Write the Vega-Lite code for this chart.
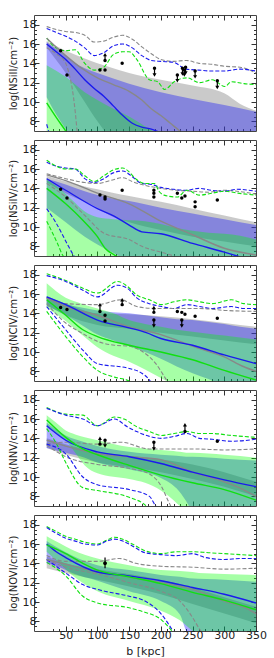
{
"$schema": "https://vega.github.io/schema/vega-lite/v6.json",
"padding": {"left": 7, "top": 13, "right": 10, "bottom": 5},
"spacing": 6,
"config": {"view": {"stroke": "#444", "strokeWidth": 1}, "font": "DejaVu Sans", "axis": {"labelFont": "DejaVu Sans", "titleFont": "DejaVu Sans", "labelColor": "#222", "titleColor": "#222", "tickColor": "#333", "grid": false, "domain": false}},
"datasets": {
"bands": [
{"p":1,"m":"G","b":20,"hi":16.3,"lo":15.6},{"p":1,"m":"G","b":50,"hi":15.3,"lo":13.0},{"p":1,"m":"G","b":80,"hi":14.5,"lo":10.0},{"p":1,"m":"G","b":100,"hi":14.0,"lo":8.0},{"p":1,"m":"G","b":120,"hi":13.6,"lo":6.5},{"p":1,"m":"G","b":150,"hi":13.0,"lo":6.0},{"p":1,"m":"G","b":200,"hi":12.3,"lo":6.0},{"p":1,"m":"G","b":250,"hi":11.7,"lo":6.0},{"p":1,"m":"G","b":300,"hi":10.9,"lo":6.0},{"p":1,"m":"G","b":325,"hi":9.8,"lo":6.0},{"p":1,"m":"G","b":350,"hi":9.1,"lo":6.0},
{"p":1,"m":"B","b":20,"hi":16.2,"lo":10.5},{"p":1,"m":"B","b":35,"hi":15.5,"lo":8.7},{"p":1,"m":"B","b":50,"hi":14.8,"lo":7.2},{"p":1,"m":"B","b":65,"hi":14.0,"lo":6.0},{"p":1,"m":"B","b":80,"hi":13.5,"lo":6.0},{"p":1,"m":"B","b":100,"hi":13.0,"lo":6.0},{"p":1,"m":"B","b":150,"hi":11.9,"lo":6.0},{"p":1,"m":"B","b":200,"hi":11.0,"lo":6.0},{"p":1,"m":"B","b":250,"hi":10.3,"lo":6.0},{"p":1,"m":"B","b":300,"hi":9.7,"lo":6.0},{"p":1,"m":"B","b":350,"hi":9.0,"lo":6.0},
{"p":1,"m":"N","b":20,"hi":13.8,"lo":6.0},{"p":1,"m":"N","b":50,"hi":12.6,"lo":6.0},{"p":1,"m":"N","b":80,"hi":11.0,"lo":6.0},{"p":1,"m":"N","b":100,"hi":10.2,"lo":6.0},{"p":1,"m":"N","b":125,"hi":9.3,"lo":6.0},{"p":1,"m":"N","b":150,"hi":8.5,"lo":6.0},{"p":1,"m":"N","b":175,"hi":7.5,"lo":6.0},{"p":1,"m":"N","b":200,"hi":6.5,"lo":6.0},
{"p":2,"m":"G","b":20,"hi":15.3,"lo":14.6},{"p":2,"m":"G","b":50,"hi":14.7,"lo":13.5},{"p":2,"m":"G","b":80,"hi":14.2,"lo":12.6},{"p":2,"m":"G","b":100,"hi":13.9,"lo":12.0},{"p":2,"m":"G","b":120,"hi":13.6,"lo":11.2},{"p":2,"m":"G","b":150,"hi":13.2,"lo":10.5},{"p":2,"m":"G","b":200,"hi":12.6,"lo":9.7},{"p":2,"m":"G","b":250,"hi":11.9,"lo":9.0},{"p":2,"m":"G","b":300,"hi":11.2,"lo":8.5},{"p":2,"m":"G","b":350,"hi":10.5,"lo":8.0},
{"p":2,"m":"B","b":20,"hi":15.0,"lo":12.0},{"p":2,"m":"B","b":50,"hi":14.4,"lo":10.5},{"p":2,"m":"B","b":80,"hi":13.7,"lo":9.0},{"p":2,"m":"B","b":100,"hi":13.3,"lo":8.2},{"p":2,"m":"B","b":120,"hi":13.0,"lo":7.5},{"p":2,"m":"B","b":150,"hi":12.7,"lo":6.5},{"p":2,"m":"B","b":200,"hi":12.0,"lo":6.0},{"p":2,"m":"B","b":250,"hi":11.4,"lo":6.0},{"p":2,"m":"B","b":300,"hi":10.8,"lo":6.0},{"p":2,"m":"B","b":350,"hi":10.2,"lo":6.0},
{"p":2,"m":"N","b":20,"hi":14.9,"lo":6.0},{"p":2,"m":"N","b":40,"hi":14.0,"lo":6.0},{"p":2,"m":"N","b":60,"hi":12.8,"lo":6.0},{"p":2,"m":"N","b":80,"hi":11.6,"lo":6.0},{"p":2,"m":"N","b":100,"hi":11.0,"lo":6.0},{"p":2,"m":"N","b":125,"hi":10.8,"lo":6.0},{"p":2,"m":"N","b":150,"hi":10.7,"lo":6.0},{"p":2,"m":"N","b":175,"hi":10.6,"lo":6.0},{"p":2,"m":"N","b":200,"hi":10.3,"lo":6.0},{"p":2,"m":"N","b":225,"hi":9.9,"lo":6.0},{"p":2,"m":"N","b":250,"hi":9.6,"lo":6.0},{"p":2,"m":"N","b":275,"hi":9.4,"lo":6.0},{"p":2,"m":"N","b":300,"hi":9.3,"lo":6.0},{"p":2,"m":"N","b":325,"hi":9.1,"lo":6.0},{"p":2,"m":"N","b":350,"hi":8.7,"lo":6.0},
{"p":3,"m":"G","b":20,"hi":15.6,"lo":14.8},{"p":3,"m":"G","b":50,"hi":15.0,"lo":13.8},{"p":3,"m":"G","b":100,"hi":14.0,"lo":12.8},{"p":3,"m":"G","b":150,"hi":13.9,"lo":12.4},{"p":3,"m":"G","b":200,"hi":13.7,"lo":12.0},{"p":3,"m":"G","b":250,"hi":13.4,"lo":11.6},{"p":3,"m":"G","b":300,"hi":13.0,"lo":11.2},{"p":3,"m":"G","b":350,"hi":12.6,"lo":10.8},
{"p":3,"m":"B","b":20,"hi":15.8,"lo":14.8},{"p":3,"m":"B","b":50,"hi":15.0,"lo":13.8},{"p":3,"m":"B","b":75,"hi":14.6,"lo":12.8},{"p":3,"m":"B","b":100,"hi":14.3,"lo":11.8},{"p":3,"m":"B","b":125,"hi":14.1,"lo":11.2},{"p":3,"m":"B","b":150,"hi":14.0,"lo":10.6},{"p":3,"m":"B","b":175,"hi":13.8,"lo":10.0},{"p":3,"m":"B","b":200,"hi":13.6,"lo":9.3},{"p":3,"m":"B","b":225,"hi":13.4,"lo":8.5},{"p":3,"m":"B","b":250,"hi":13.3,"lo":7.8},{"p":3,"m":"B","b":275,"hi":13.1,"lo":7.2},{"p":3,"m":"B","b":300,"hi":12.9,"lo":6.5},{"p":3,"m":"B","b":325,"hi":12.6,"lo":6.0},{"p":3,"m":"B","b":350,"hi":12.4,"lo":6.0},
{"p":3,"m":"N","b":20,"hi":17.1,"lo":14.6},{"p":3,"m":"N","b":50,"hi":15.6,"lo":13.2},{"p":3,"m":"N","b":75,"hi":15.0,"lo":11.8},{"p":3,"m":"N","b":100,"hi":14.5,"lo":10.5},{"p":3,"m":"N","b":125,"hi":14.0,"lo":9.6},{"p":3,"m":"N","b":150,"hi":13.3,"lo":9.0},{"p":3,"m":"N","b":175,"hi":12.9,"lo":8.2},{"p":3,"m":"N","b":200,"hi":12.6,"lo":7.3},{"p":3,"m":"N","b":225,"hi":12.3,"lo":6.5},{"p":3,"m":"N","b":250,"hi":12.1,"lo":6.0},{"p":3,"m":"N","b":275,"hi":11.9,"lo":6.0},{"p":3,"m":"N","b":300,"hi":11.7,"lo":6.0},{"p":3,"m":"N","b":325,"hi":11.5,"lo":6.0},{"p":3,"m":"N","b":350,"hi":11.3,"lo":6.0},
{"p":4,"m":"G","b":20,"hi":14.0,"lo":13.0},{"p":4,"m":"G","b":50,"hi":13.4,"lo":12.3},{"p":4,"m":"G","b":100,"hi":12.6,"lo":11.5},{"p":4,"m":"G","b":150,"hi":12.2,"lo":11.0},{"p":4,"m":"G","b":200,"hi":11.8,"lo":10.5},{"p":4,"m":"G","b":250,"hi":11.3,"lo":9.8},{"p":4,"m":"G","b":300,"hi":10.5,"lo":9.0},{"p":4,"m":"G","b":350,"hi":9.5,"lo":8.0},
{"p":4,"m":"B","b":20,"hi":15.6,"lo":13.0},{"p":4,"m":"B","b":50,"hi":14.3,"lo":12.5},{"p":4,"m":"B","b":80,"hi":13.6,"lo":12.0},{"p":4,"m":"B","b":100,"hi":13.2,"lo":11.5},{"p":4,"m":"B","b":150,"hi":12.6,"lo":10.8},{"p":4,"m":"B","b":200,"hi":12.3,"lo":9.9},{"p":4,"m":"B","b":225,"hi":12.2,"lo":8.8},{"p":4,"m":"B","b":240,"hi":12.1,"lo":7.5},{"p":4,"m":"B","b":250,"hi":12.1,"lo":6.5},{"p":4,"m":"B","b":300,"hi":11.9,"lo":6.0},{"p":4,"m":"B","b":350,"hi":11.7,"lo":6.0},
{"p":4,"m":"N","b":20,"hi":16.4,"lo":15.2},{"p":4,"m":"N","b":35,"hi":15.6,"lo":14.5},{"p":4,"m":"N","b":50,"hi":14.8,"lo":13.8},{"p":4,"m":"N","b":65,"hi":14.4,"lo":12.5},{"p":4,"m":"N","b":80,"hi":14.1,"lo":11.2},{"p":4,"m":"N","b":100,"hi":13.8,"lo":10.4},{"p":4,"m":"N","b":150,"hi":13.1,"lo":9.8},{"p":4,"m":"N","b":175,"hi":12.95,"lo":9.4},{"p":4,"m":"N","b":200,"hi":12.8,"lo":8.6},{"p":4,"m":"N","b":220,"hi":12.7,"lo":7.6},{"p":4,"m":"N","b":230,"hi":12.6,"lo":7.0},{"p":4,"m":"N","b":240,"hi":12.5,"lo":6.5},{"p":4,"m":"N","b":250,"hi":12.5,"lo":6.0},{"p":4,"m":"N","b":300,"hi":12.3,"lo":6.0},{"p":4,"m":"N","b":350,"hi":12.0,"lo":6.0},
{"p":5,"m":"G","b":20,"hi":14.7,"lo":13.5},{"p":5,"m":"G","b":50,"hi":14.0,"lo":13.0},{"p":5,"m":"G","b":100,"hi":13.4,"lo":12.3},{"p":5,"m":"G","b":150,"hi":12.9,"lo":11.6},{"p":5,"m":"G","b":200,"hi":12.3,"lo":10.8},{"p":5,"m":"G","b":250,"hi":11.5,"lo":9.8},{"p":5,"m":"G","b":300,"hi":10.5,"lo":8.8},{"p":5,"m":"G","b":350,"hi":9.5,"lo":7.8},
{"p":5,"m":"B","b":20,"hi":16.3,"lo":14.0},{"p":5,"m":"B","b":40,"hi":15.5,"lo":13.6},{"p":5,"m":"B","b":60,"hi":14.8,"lo":13.0},{"p":5,"m":"B","b":100,"hi":13.8,"lo":12.2},{"p":5,"m":"B","b":150,"hi":13.3,"lo":11.1},{"p":5,"m":"B","b":200,"hi":12.8,"lo":10.1},{"p":5,"m":"B","b":230,"hi":12.6,"lo":8.7},{"p":5,"m":"B","b":240,"hi":12.5,"lo":7.0},{"p":5,"m":"B","b":245,"hi":12.45,"lo":6.5},{"p":5,"m":"B","b":300,"hi":12.3,"lo":6.0},{"p":5,"m":"B","b":350,"hi":12.1,"lo":6.0},
{"p":5,"m":"N","b":20,"hi":16.8,"lo":15.2},{"p":5,"m":"N","b":40,"hi":16.1,"lo":14.0},{"p":5,"m":"N","b":60,"hi":15.4,"lo":12.8},{"p":5,"m":"N","b":100,"hi":14.5,"lo":11.1},{"p":5,"m":"N","b":150,"hi":13.8,"lo":10.1},{"p":5,"m":"N","b":200,"hi":13.3,"lo":9.1},{"p":5,"m":"N","b":230,"hi":13.2,"lo":8.1},{"p":5,"m":"N","b":250,"hi":13.1,"lo":7.0},{"p":5,"m":"N","b":260,"hi":13.0,"lo":6.5},{"p":5,"m":"N","b":300,"hi":12.9,"lo":6.0},{"p":5,"m":"N","b":350,"hi":12.8,"lo":6.0}
],
"lines": [
{"p":1,"m":"G","q":"u","b":20,"v":17.8},{"p":1,"m":"G","q":"u","b":35,"v":17.5},{"p":1,"m":"G","q":"u","b":50,"v":17.3},{"p":1,"m":"G","q":"u","b":65,"v":17.2},{"p":1,"m":"G","q":"u","b":80,"v":16.9},{"p":1,"m":"G","q":"u","b":95,"v":16.2},{"p":1,"m":"G","q":"u","b":110,"v":16.3},{"p":1,"m":"G","q":"u","b":125,"v":16.7},{"p":1,"m":"G","q":"u","b":140,"v":16.9},{"p":1,"m":"G","q":"u","b":155,"v":16.5},{"p":1,"m":"G","q":"u","b":170,"v":15.7},{"p":1,"m":"G","q":"u","b":185,"v":15.0},{"p":1,"m":"G","q":"u","b":200,"v":14.4},{"p":1,"m":"G","q":"u","b":220,"v":14.2},{"p":1,"m":"G","q":"u","b":240,"v":14.3},{"p":1,"m":"G","q":"u","b":260,"v":14.0},{"p":1,"m":"G","q":"u","b":280,"v":13.9},{"p":1,"m":"G","q":"u","b":300,"v":13.7},{"p":1,"m":"G","q":"u","b":325,"v":13.6},{"p":1,"m":"G","q":"u","b":350,"v":13.0},
{"p":1,"m":"B","q":"u","b":20,"v":17.6},{"p":1,"m":"B","q":"u","b":35,"v":17.2},{"p":1,"m":"B","q":"u","b":50,"v":16.8},{"p":1,"m":"B","q":"u","b":65,"v":16.3},{"p":1,"m":"B","q":"u","b":80,"v":15.6},{"p":1,"m":"B","q":"u","b":95,"v":14.8},{"p":1,"m":"B","q":"u","b":110,"v":15.1},{"p":1,"m":"B","q":"u","b":125,"v":15.8},{"p":1,"m":"B","q":"u","b":140,"v":16.0},{"p":1,"m":"B","q":"u","b":155,"v":15.6},{"p":1,"m":"B","q":"u","b":170,"v":14.8},{"p":1,"m":"B","q":"u","b":185,"v":14.3},{"p":1,"m":"B","q":"u","b":200,"v":14.2},{"p":1,"m":"B","q":"u","b":220,"v":14.1},{"p":1,"m":"B","q":"u","b":240,"v":13.4},{"p":1,"m":"B","q":"u","b":260,"v":13.3},{"p":1,"m":"B","q":"u","b":280,"v":13.2},{"p":1,"m":"B","q":"u","b":300,"v":13.2},{"p":1,"m":"B","q":"u","b":325,"v":13.4},{"p":1,"m":"B","q":"u","b":350,"v":13.2},
{"p":1,"m":"N","q":"u","b":20,"v":16.6},{"p":1,"m":"N","q":"u","b":35,"v":15.6},{"p":1,"m":"N","q":"u","b":50,"v":15.3},{"p":1,"m":"N","q":"u","b":65,"v":15.4},{"p":1,"m":"N","q":"u","b":80,"v":14.0},{"p":1,"m":"N","q":"u","b":95,"v":13.3},{"p":1,"m":"N","q":"u","b":110,"v":13.6},{"p":1,"m":"N","q":"u","b":125,"v":14.9},{"p":1,"m":"N","q":"u","b":140,"v":15.2},{"p":1,"m":"N","q":"u","b":150,"v":15.2},{"p":1,"m":"N","q":"u","b":162,"v":14.4},{"p":1,"m":"N","q":"u","b":182,"v":12.3},{"p":1,"m":"N","q":"u","b":195,"v":12.1},{"p":1,"m":"N","q":"u","b":206,"v":11.3},{"p":1,"m":"N","q":"u","b":221,"v":12.1},{"p":1,"m":"N","q":"u","b":241,"v":12.5},{"p":1,"m":"N","q":"u","b":261,"v":12.0},{"p":1,"m":"N","q":"u","b":281,"v":12.3},{"p":1,"m":"N","q":"u","b":301,"v":11.6},{"p":1,"m":"N","q":"u","b":311,"v":12.1},{"p":1,"m":"N","q":"u","b":331,"v":11.9},{"p":1,"m":"N","q":"u","b":350,"v":11.8},
{"p":1,"m":"G","q":"m","b":20,"v":16.6},{"p":1,"m":"G","q":"m","b":50,"v":14.8},{"p":1,"m":"G","q":"m","b":75,"v":13.5},{"p":1,"m":"G","q":"m","b":100,"v":12.5},{"p":1,"m":"G","q":"m","b":125,"v":11.8},{"p":1,"m":"G","q":"m","b":150,"v":11.1},{"p":1,"m":"G","q":"m","b":170,"v":10.2},{"p":1,"m":"G","q":"m","b":185,"v":9.3},{"p":1,"m":"G","q":"m","b":200,"v":8.6},{"p":1,"m":"G","q":"m","b":215,"v":7.8},{"p":1,"m":"G","q":"m","b":230,"v":7.0},{"p":1,"m":"G","q":"m","b":240,"v":6.5},
{"p":1,"m":"G","q":"l","b":20,"v":15.6},{"p":1,"m":"G","q":"l","b":35,"v":15.0},{"p":1,"m":"G","q":"l","b":50,"v":14.0},{"p":1,"m":"G","q":"l","b":55,"v":13.0},{"p":1,"m":"G","q":"l","b":60,"v":11.5},{"p":1,"m":"G","q":"l","b":65,"v":9.0},{"p":1,"m":"G","q":"l","b":68,"v":7.0},{"p":1,"m":"G","q":"l","b":70,"v":6.0},
{"p":1,"m":"B","q":"m","b":20,"v":16.0},{"p":1,"m":"B","q":"m","b":35,"v":15.2},{"p":1,"m":"B","q":"m","b":50,"v":14.4},{"p":1,"m":"B","q":"m","b":65,"v":13.4},{"p":1,"m":"B","q":"m","b":80,"v":12.3},{"p":1,"m":"B","q":"m","b":95,"v":11.4},{"p":1,"m":"B","q":"m","b":110,"v":10.6},{"p":1,"m":"B","q":"m","b":125,"v":9.6},{"p":1,"m":"B","q":"m","b":140,"v":8.6},{"p":1,"m":"B","q":"m","b":155,"v":7.8},{"p":1,"m":"B","q":"m","b":170,"v":7.4},{"p":1,"m":"B","q":"m","b":185,"v":7.2},{"p":1,"m":"B","q":"m","b":200,"v":6.8},
{"p":1,"m":"B","q":"l","b":20,"v":7.7},{"p":1,"m":"B","q":"l","b":25,"v":6.5},
{"p":1,"m":"N","q":"m","b":20,"v":9.9},{"p":1,"m":"N","q":"m","b":35,"v":8.4},{"p":1,"m":"N","q":"m","b":50,"v":7.0},{"p":1,"m":"N","q":"m","b":55,"v":6.5},
{"p":2,"m":"G","q":"u","b":20,"v":15.5},{"p":2,"m":"G","q":"u","b":50,"v":15.0},{"p":2,"m":"G","q":"u","b":80,"v":14.6},{"p":2,"m":"G","q":"u","b":100,"v":14.5},{"p":2,"m":"G","q":"u","b":120,"v":14.8},{"p":2,"m":"G","q":"u","b":140,"v":15.1},{"p":2,"m":"G","q":"u","b":155,"v":14.7},{"p":2,"m":"G","q":"u","b":175,"v":14.3},{"p":2,"m":"G","q":"u","b":200,"v":14.0},{"p":2,"m":"G","q":"u","b":225,"v":13.8},{"p":2,"m":"G","q":"u","b":250,"v":13.7},{"p":2,"m":"G","q":"u","b":275,"v":13.6},{"p":2,"m":"G","q":"u","b":300,"v":13.8},{"p":2,"m":"G","q":"u","b":320,"v":13.7},{"p":2,"m":"G","q":"u","b":350,"v":13.4},
{"p":2,"m":"B","q":"u","b":20,"v":16.7},{"p":2,"m":"B","q":"u","b":35,"v":16.3},{"p":2,"m":"B","q":"u","b":50,"v":16.1},{"p":2,"m":"B","q":"u","b":65,"v":16.0},{"p":2,"m":"B","q":"u","b":80,"v":15.0},{"p":2,"m":"B","q":"u","b":95,"v":14.6},{"p":2,"m":"B","q":"u","b":110,"v":15.0},{"p":2,"m":"B","q":"u","b":125,"v":15.6},{"p":2,"m":"B","q":"u","b":140,"v":15.8},{"p":2,"m":"B","q":"u","b":155,"v":15.2},{"p":2,"m":"B","q":"u","b":170,"v":14.5},{"p":2,"m":"B","q":"u","b":185,"v":14.4},{"p":2,"m":"B","q":"u","b":200,"v":14.1},{"p":2,"m":"B","q":"u","b":220,"v":13.9},{"p":2,"m":"B","q":"u","b":240,"v":13.8},{"p":2,"m":"B","q":"u","b":260,"v":14.0},{"p":2,"m":"B","q":"u","b":280,"v":13.8},{"p":2,"m":"B","q":"u","b":300,"v":13.7},{"p":2,"m":"B","q":"u","b":320,"v":13.9},{"p":2,"m":"B","q":"u","b":350,"v":13.7},
{"p":2,"m":"N","q":"u","b":20,"v":16.9},{"p":2,"m":"N","q":"u","b":35,"v":16.3},{"p":2,"m":"N","q":"u","b":50,"v":16.0},{"p":2,"m":"N","q":"u","b":65,"v":16.0},{"p":2,"m":"N","q":"u","b":80,"v":15.3},{"p":2,"m":"N","q":"u","b":95,"v":14.7},{"p":2,"m":"N","q":"u","b":110,"v":15.3},{"p":2,"m":"N","q":"u","b":125,"v":15.9},{"p":2,"m":"N","q":"u","b":140,"v":16.1},{"p":2,"m":"N","q":"u","b":150,"v":15.7},{"p":2,"m":"N","q":"u","b":160,"v":15.0},{"p":2,"m":"N","q":"u","b":175,"v":14.5},{"p":2,"m":"N","q":"u","b":190,"v":14.5},{"p":2,"m":"N","q":"u","b":197,"v":13.7},{"p":2,"m":"N","q":"u","b":205,"v":13.3},{"p":2,"m":"N","q":"u","b":226,"v":13.1},{"p":2,"m":"N","q":"u","b":241,"v":13.8},{"p":2,"m":"N","q":"u","b":261,"v":13.3},{"p":2,"m":"N","q":"u","b":281,"v":13.5},{"p":2,"m":"N","q":"u","b":301,"v":13.7},{"p":2,"m":"N","q":"u","b":321,"v":13.5},{"p":2,"m":"N","q":"u","b":350,"v":13.3},
{"p":2,"m":"G","q":"m","b":20,"v":15.4},{"p":2,"m":"G","q":"m","b":50,"v":14.8},{"p":2,"m":"G","q":"m","b":100,"v":13.5},{"p":2,"m":"G","q":"m","b":150,"v":12.4},{"p":2,"m":"G","q":"m","b":200,"v":10.6},{"p":2,"m":"G","q":"m","b":250,"v":9.2},{"p":2,"m":"G","q":"m","b":300,"v":7.8},{"p":2,"m":"G","q":"m","b":350,"v":7.1},
{"p":2,"m":"G","q":"l","b":20,"v":14.5},{"p":2,"m":"G","q":"l","b":50,"v":13.1},{"p":2,"m":"G","q":"l","b":77,"v":11.4},{"p":2,"m":"G","q":"l","b":112,"v":9.3},{"p":2,"m":"G","q":"l","b":150,"v":8.7},{"p":2,"m":"G","q":"l","b":170,"v":8.0},{"p":2,"m":"G","q":"l","b":200,"v":7.4},{"p":2,"m":"G","q":"l","b":220,"v":7.0},{"p":2,"m":"G","q":"l","b":230,"v":6.7},
{"p":2,"m":"B","q":"m","b":20,"v":15.0},{"p":2,"m":"B","q":"m","b":50,"v":13.8},{"p":2,"m":"B","q":"m","b":100,"v":11.9},{"p":2,"m":"B","q":"m","b":127,"v":11.1},{"p":2,"m":"B","q":"m","b":150,"v":10.2},{"p":2,"m":"B","q":"m","b":170,"v":9.5},{"p":2,"m":"B","q":"m","b":200,"v":9.3},{"p":2,"m":"B","q":"m","b":250,"v":8.3},{"p":2,"m":"B","q":"m","b":300,"v":7.4},{"p":2,"m":"B","q":"m","b":320,"v":7.0},{"p":2,"m":"B","q":"m","b":330,"v":6.8},
{"p":2,"m":"B","q":"l","b":20,"v":11.9},{"p":2,"m":"B","q":"l","b":35,"v":10.4},{"p":2,"m":"B","q":"l","b":52,"v":8.3},{"p":2,"m":"B","q":"l","b":62,"v":7.1},{"p":2,"m":"B","q":"l","b":65,"v":6.8},
{"p":2,"m":"N","q":"m","b":20,"v":14.0},{"p":2,"m":"N","q":"m","b":50,"v":12.4},{"p":2,"m":"N","q":"m","b":77,"v":10.7},{"p":2,"m":"N","q":"m","b":100,"v":9.0},{"p":2,"m":"N","q":"m","b":112,"v":7.8},{"p":2,"m":"N","q":"m","b":127,"v":7.1},{"p":2,"m":"N","q":"m","b":135,"v":6.8},
{"p":2,"m":"N","q":"l","b":20,"v":10.6},{"p":2,"m":"N","q":"l","b":37,"v":8.3},{"p":2,"m":"N","q":"l","b":45,"v":7.1},{"p":2,"m":"N","q":"l","b":48,"v":6.8},
{"p":3,"m":"N","q":"u","b":20,"v":18.1},{"p":3,"m":"N","q":"u","b":50,"v":17.4},{"p":3,"m":"N","q":"u","b":77,"v":16.6},{"p":3,"m":"N","q":"u","b":100,"v":16.1},{"p":3,"m":"N","q":"u","b":132,"v":17.3},{"p":3,"m":"N","q":"u","b":147,"v":16.8},{"p":3,"m":"N","q":"u","b":162,"v":15.9},{"p":3,"m":"N","q":"u","b":182,"v":15.4},{"p":3,"m":"N","q":"u","b":201,"v":14.9},{"p":3,"m":"N","q":"u","b":221,"v":15.2},{"p":3,"m":"N","q":"u","b":241,"v":15.4},{"p":3,"m":"N","q":"u","b":261,"v":15.2},{"p":3,"m":"N","q":"u","b":281,"v":15.0},{"p":3,"m":"N","q":"u","b":311,"v":15.4},{"p":3,"m":"N","q":"u","b":331,"v":15.0},{"p":3,"m":"N","q":"u","b":350,"v":14.9},
{"p":3,"m":"B","q":"u","b":20,"v":17.9},{"p":3,"m":"B","q":"u","b":50,"v":17.3},{"p":3,"m":"B","q":"u","b":77,"v":16.4},{"p":3,"m":"B","q":"u","b":100,"v":15.7},{"p":3,"m":"B","q":"u","b":132,"v":16.9},{"p":3,"m":"B","q":"u","b":147,"v":16.6},{"p":3,"m":"B","q":"u","b":162,"v":15.6},{"p":3,"m":"B","q":"u","b":182,"v":15.0},{"p":3,"m":"B","q":"u","b":201,"v":14.7},{"p":3,"m":"B","q":"u","b":221,"v":14.5},{"p":3,"m":"B","q":"u","b":241,"v":14.9},{"p":3,"m":"B","q":"u","b":261,"v":14.7},{"p":3,"m":"B","q":"u","b":281,"v":14.5},{"p":3,"m":"B","q":"u","b":311,"v":14.7},{"p":3,"m":"B","q":"u","b":331,"v":14.5},{"p":3,"m":"B","q":"u","b":350,"v":14.5},
{"p":3,"m":"G","q":"u","b":20,"v":15.6},{"p":3,"m":"G","q":"u","b":50,"v":15.0},{"p":3,"m":"G","q":"u","b":100,"v":14.9},{"p":3,"m":"G","q":"u","b":137,"v":15.4},{"p":3,"m":"G","q":"u","b":162,"v":14.7},{"p":3,"m":"G","q":"u","b":192,"v":14.5},{"p":3,"m":"G","q":"u","b":221,"v":14.5},{"p":3,"m":"G","q":"u","b":261,"v":14.5},{"p":3,"m":"G","q":"u","b":301,"v":14.3},{"p":3,"m":"G","q":"u","b":350,"v":14.2},
{"p":3,"m":"G","q":"l","b":20,"v":15.0},{"p":3,"m":"G","q":"l","b":50,"v":13.0},{"p":3,"m":"G","q":"l","b":77,"v":11.9},{"p":3,"m":"G","q":"l","b":100,"v":11.1},{"p":3,"m":"G","q":"l","b":127,"v":10.7},{"p":3,"m":"G","q":"l","b":150,"v":10.6},{"p":3,"m":"G","q":"l","b":172,"v":10.0},{"p":3,"m":"G","q":"l","b":192,"v":8.8},{"p":3,"m":"G","q":"l","b":207,"v":7.3},{"p":3,"m":"G","q":"l","b":212,"v":6.8},
{"p":3,"m":"G","q":"m","b":20,"v":15.6},{"p":3,"m":"G","q":"m","b":50,"v":14.7},{"p":3,"m":"G","q":"m","b":100,"v":13.8},{"p":3,"m":"G","q":"m","b":150,"v":12.6},{"p":3,"m":"G","q":"m","b":200,"v":11.8},{"p":3,"m":"G","q":"m","b":250,"v":10.6},{"p":3,"m":"G","q":"m","b":300,"v":9.5},{"p":3,"m":"G","q":"m","b":330,"v":8.5},{"p":3,"m":"G","q":"m","b":350,"v":8.0},
{"p":3,"m":"B","q":"m","b":20,"v":15.7},{"p":3,"m":"B","q":"m","b":50,"v":14.9},{"p":3,"m":"B","q":"m","b":100,"v":13.3},{"p":3,"m":"B","q":"m","b":150,"v":12.5},{"p":3,"m":"B","q":"m","b":177,"v":12.0},{"p":3,"m":"B","q":"m","b":200,"v":11.4},{"p":3,"m":"B","q":"m","b":250,"v":10.7},{"p":3,"m":"B","q":"m","b":300,"v":9.7},{"p":3,"m":"B","q":"m","b":350,"v":8.8},
{"p":3,"m":"N","q":"m","b":20,"v":15.4},{"p":3,"m":"N","q":"m","b":50,"v":13.8},{"p":3,"m":"N","q":"m","b":77,"v":12.3},{"p":3,"m":"N","q":"m","b":100,"v":11.6},{"p":3,"m":"N","q":"m","b":150,"v":10.7},{"p":3,"m":"N","q":"m","b":200,"v":10.0},{"p":3,"m":"N","q":"m","b":250,"v":9.2},{"p":3,"m":"N","q":"m","b":300,"v":8.1},{"p":3,"m":"N","q":"m","b":350,"v":7.1},
{"p":3,"m":"B","q":"l","b":20,"v":14.7},{"p":3,"m":"B","q":"l","b":50,"v":12.3},{"p":3,"m":"B","q":"l","b":77,"v":10.2},{"p":3,"m":"B","q":"l","b":100,"v":8.8},{"p":3,"m":"B","q":"l","b":150,"v":8.3},{"p":3,"m":"B","q":"l","b":170,"v":7.8},{"p":3,"m":"B","q":"l","b":182,"v":7.1},{"p":3,"m":"B","q":"l","b":185,"v":6.8},
{"p":3,"m":"N","q":"l","b":20,"v":14.2},{"p":3,"m":"N","q":"l","b":50,"v":11.6},{"p":3,"m":"N","q":"l","b":77,"v":9.5},{"p":3,"m":"N","q":"l","b":100,"v":8.1},{"p":3,"m":"N","q":"l","b":127,"v":7.4},{"p":3,"m":"N","q":"l","b":150,"v":7.0},{"p":3,"m":"N","q":"l","b":155,"v":6.8},
{"p":4,"m":"N","q":"u","b":20,"v":17.2},{"p":4,"m":"N","q":"u","b":50,"v":16.5},{"p":4,"m":"N","q":"u","b":77,"v":16.4},{"p":4,"m":"N","q":"u","b":100,"v":15.3},{"p":4,"m":"N","q":"u","b":127,"v":16.2},{"p":4,"m":"N","q":"u","b":142,"v":16.0},{"p":4,"m":"N","q":"u","b":162,"v":15.2},{"p":4,"m":"N","q":"u","b":182,"v":14.7},{"p":4,"m":"N","q":"u","b":201,"v":14.3},{"p":4,"m":"N","q":"u","b":221,"v":14.5},{"p":4,"m":"N","q":"u","b":241,"v":14.7},{"p":4,"m":"N","q":"u","b":261,"v":14.5},{"p":4,"m":"N","q":"u","b":281,"v":14.5},{"p":4,"m":"N","q":"u","b":311,"v":14.3},{"p":4,"m":"N","q":"u","b":350,"v":14.1},
{"p":4,"m":"B","q":"u","b":20,"v":17.1},{"p":4,"m":"B","q":"u","b":50,"v":16.4},{"p":4,"m":"B","q":"u","b":77,"v":16.0},{"p":4,"m":"B","q":"u","b":100,"v":15.3},{"p":4,"m":"B","q":"u","b":127,"v":16.0},{"p":4,"m":"B","q":"u","b":147,"v":15.2},{"p":4,"m":"B","q":"u","b":162,"v":14.7},{"p":4,"m":"B","q":"u","b":182,"v":14.2},{"p":4,"m":"B","q":"u","b":201,"v":14.0},{"p":4,"m":"B","q":"u","b":221,"v":14.2},{"p":4,"m":"B","q":"u","b":241,"v":14.5},{"p":4,"m":"B","q":"u","b":261,"v":14.0},{"p":4,"m":"B","q":"u","b":281,"v":13.9},{"p":4,"m":"B","q":"u","b":311,"v":13.7},{"p":4,"m":"B","q":"u","b":350,"v":13.9},
{"p":4,"m":"G","q":"u","b":20,"v":13.4},{"p":4,"m":"G","q":"u","b":50,"v":13.6},{"p":4,"m":"G","q":"u","b":100,"v":13.4},{"p":4,"m":"G","q":"u","b":137,"v":13.6},{"p":4,"m":"G","q":"u","b":182,"v":12.9},{"p":4,"m":"G","q":"u","b":201,"v":12.9},{"p":4,"m":"G","q":"u","b":251,"v":12.9},{"p":4,"m":"G","q":"u","b":301,"v":12.8},{"p":4,"m":"G","q":"u","b":350,"v":12.9},
{"p":4,"m":"G","q":"l","b":20,"v":13.3},{"p":4,"m":"G","q":"l","b":50,"v":12.1},{"p":4,"m":"G","q":"l","b":100,"v":11.3},{"p":4,"m":"G","q":"l","b":150,"v":10.9},{"p":4,"m":"G","q":"l","b":182,"v":10.3},{"p":4,"m":"G","q":"l","b":201,"v":9.0},{"p":4,"m":"G","q":"l","b":211,"v":7.6},{"p":4,"m":"G","q":"l","b":216,"v":6.9},{"p":4,"m":"G","q":"l","b":218,"v":6.5},
{"p":4,"m":"G","q":"m","b":20,"v":13.8},{"p":4,"m":"G","q":"m","b":50,"v":13.2},{"p":4,"m":"G","q":"m","b":100,"v":12.4},{"p":4,"m":"G","q":"m","b":150,"v":12.1},{"p":4,"m":"G","q":"m","b":200,"v":11.8},{"p":4,"m":"G","q":"m","b":250,"v":10.5},{"p":4,"m":"G","q":"m","b":300,"v":9.5},{"p":4,"m":"G","q":"m","b":330,"v":8.7},{"p":4,"m":"G","q":"m","b":350,"v":8.0},
{"p":4,"m":"B","q":"m","b":20,"v":15.3},{"p":4,"m":"B","q":"m","b":50,"v":13.8},{"p":4,"m":"B","q":"m","b":100,"v":12.6},{"p":4,"m":"B","q":"m","b":150,"v":12.1},{"p":4,"m":"B","q":"m","b":200,"v":11.4},{"p":4,"m":"B","q":"m","b":250,"v":10.5},{"p":4,"m":"B","q":"m","b":300,"v":9.7},{"p":4,"m":"B","q":"m","b":350,"v":9.0},
{"p":4,"m":"N","q":"m","b":20,"v":15.9},{"p":4,"m":"N","q":"m","b":50,"v":14.1},{"p":4,"m":"N","q":"m","b":77,"v":12.9},{"p":4,"m":"N","q":"m","b":100,"v":12.3},{"p":4,"m":"N","q":"m","b":150,"v":11.2},{"p":4,"m":"N","q":"m","b":200,"v":10.2},{"p":4,"m":"N","q":"m","b":250,"v":9.4},{"p":4,"m":"N","q":"m","b":300,"v":8.7},{"p":4,"m":"N","q":"m","b":350,"v":7.6},
{"p":4,"m":"B","q":"l","b":20,"v":13.4},{"p":4,"m":"B","q":"l","b":50,"v":12.4},{"p":4,"m":"B","q":"l","b":77,"v":10.0},{"p":4,"m":"B","q":"l","b":100,"v":9.2},{"p":4,"m":"B","q":"l","b":150,"v":8.7},{"p":4,"m":"B","q":"l","b":182,"v":8.0},{"p":4,"m":"B","q":"l","b":192,"v":7.0},{"p":4,"m":"B","q":"l","b":195,"v":6.8},
{"p":4,"m":"N","q":"l","b":20,"v":15.0},{"p":4,"m":"N","q":"l","b":35,"v":13.5},{"p":4,"m":"N","q":"l","b":50,"v":11.5},{"p":4,"m":"N","q":"l","b":77,"v":8.9},{"p":4,"m":"N","q":"l","b":100,"v":8.6},{"p":4,"m":"N","q":"l","b":150,"v":7.9},{"p":4,"m":"N","q":"l","b":177,"v":7.0},{"p":4,"m":"N","q":"l","b":180,"v":6.8},
{"p":5,"m":"N","q":"u","b":20,"v":17.8},{"p":5,"m":"N","q":"u","b":35,"v":17.3},{"p":5,"m":"N","q":"u","b":50,"v":16.8},{"p":5,"m":"N","q":"u","b":65,"v":16.5},{"p":5,"m":"N","q":"u","b":80,"v":16.2},{"p":5,"m":"N","q":"u","b":100,"v":16.0},{"p":5,"m":"N","q":"u","b":115,"v":16.4},{"p":5,"m":"N","q":"u","b":127,"v":16.7},{"p":5,"m":"N","q":"u","b":140,"v":16.5},{"p":5,"m":"N","q":"u","b":155,"v":16.0},{"p":5,"m":"N","q":"u","b":175,"v":15.3},{"p":5,"m":"N","q":"u","b":200,"v":15.0},{"p":5,"m":"N","q":"u","b":225,"v":15.2},{"p":5,"m":"N","q":"u","b":250,"v":15.2},{"p":5,"m":"N","q":"u","b":275,"v":15.1},{"p":5,"m":"N","q":"u","b":300,"v":15.0},{"p":5,"m":"N","q":"u","b":325,"v":14.9},{"p":5,"m":"N","q":"u","b":350,"v":14.8},
{"p":5,"m":"B","q":"u","b":20,"v":17.7},{"p":5,"m":"B","q":"u","b":35,"v":17.1},{"p":5,"m":"B","q":"u","b":50,"v":16.6},{"p":5,"m":"B","q":"u","b":65,"v":16.3},{"p":5,"m":"B","q":"u","b":80,"v":16.0},{"p":5,"m":"B","q":"u","b":100,"v":15.9},{"p":5,"m":"B","q":"u","b":115,"v":16.3},{"p":5,"m":"B","q":"u","b":127,"v":16.5},{"p":5,"m":"B","q":"u","b":140,"v":16.3},{"p":5,"m":"B","q":"u","b":155,"v":15.8},{"p":5,"m":"B","q":"u","b":175,"v":15.1},{"p":5,"m":"B","q":"u","b":200,"v":14.9},{"p":5,"m":"B","q":"u","b":225,"v":14.8},{"p":5,"m":"B","q":"u","b":250,"v":15.0},{"p":5,"m":"B","q":"u","b":270,"v":14.6},{"p":5,"m":"B","q":"u","b":300,"v":14.4},{"p":5,"m":"B","q":"u","b":325,"v":14.5},{"p":5,"m":"B","q":"u","b":350,"v":14.5},
{"p":5,"m":"G","q":"u","b":20,"v":14.8},{"p":5,"m":"G","q":"u","b":50,"v":14.2},{"p":5,"m":"G","q":"u","b":100,"v":14.2},{"p":5,"m":"G","q":"u","b":135,"v":14.5},{"p":5,"m":"G","q":"u","b":160,"v":14.0},{"p":5,"m":"G","q":"u","b":200,"v":13.7},{"p":5,"m":"G","q":"u","b":250,"v":13.6},{"p":5,"m":"G","q":"u","b":300,"v":13.4},{"p":5,"m":"G","q":"u","b":350,"v":13.5},
{"p":5,"m":"G","q":"l","b":20,"v":14.4},{"p":5,"m":"G","q":"l","b":50,"v":13.6},{"p":5,"m":"G","q":"l","b":100,"v":12.9},{"p":5,"m":"G","q":"l","b":150,"v":12.0},{"p":5,"m":"G","q":"l","b":200,"v":11.1},{"p":5,"m":"G","q":"l","b":230,"v":10.1},{"p":5,"m":"G","q":"l","b":250,"v":8.4},{"p":5,"m":"G","q":"l","b":260,"v":7.3},{"p":5,"m":"G","q":"l","b":265,"v":6.8},
{"p":5,"m":"G","q":"m","b":20,"v":14.4},{"p":5,"m":"G","q":"m","b":50,"v":13.9},{"p":5,"m":"G","q":"m","b":100,"v":13.1},{"p":5,"m":"G","q":"m","b":150,"v":12.6},{"p":5,"m":"G","q":"m","b":200,"v":12.0},{"p":5,"m":"G","q":"m","b":250,"v":11.3},{"p":5,"m":"G","q":"m","b":300,"v":10.1},{"p":5,"m":"G","q":"m","b":330,"v":9.5},{"p":5,"m":"G","q":"m","b":350,"v":8.8},
{"p":5,"m":"B","q":"m","b":20,"v":16.0},{"p":5,"m":"B","q":"m","b":35,"v":15.2},{"p":5,"m":"B","q":"m","b":50,"v":14.6},{"p":5,"m":"B","q":"m","b":100,"v":13.1},{"p":5,"m":"B","q":"m","b":150,"v":12.7},{"p":5,"m":"B","q":"m","b":200,"v":12.2},{"p":5,"m":"B","q":"m","b":250,"v":11.5},{"p":5,"m":"B","q":"m","b":300,"v":10.8},{"p":5,"m":"B","q":"m","b":350,"v":9.9},
{"p":5,"m":"N","q":"m","b":20,"v":15.9},{"p":5,"m":"N","q":"m","b":50,"v":15.0},{"p":5,"m":"N","q":"m","b":77,"v":14.0},{"p":5,"m":"N","q":"m","b":100,"v":13.3},{"p":5,"m":"N","q":"m","b":150,"v":12.6},{"p":5,"m":"N","q":"m","b":200,"v":11.9},{"p":5,"m":"N","q":"m","b":250,"v":11.0},{"p":5,"m":"N","q":"m","b":300,"v":10.2},{"p":5,"m":"N","q":"m","b":350,"v":9.2},
{"p":5,"m":"B","q":"l","b":20,"v":14.4},{"p":5,"m":"B","q":"l","b":50,"v":13.0},{"p":5,"m":"B","q":"l","b":77,"v":11.8},{"p":5,"m":"B","q":"l","b":100,"v":11.3},{"p":5,"m":"B","q":"l","b":150,"v":10.6},{"p":5,"m":"B","q":"l","b":172,"v":10.2},{"p":5,"m":"B","q":"l","b":200,"v":8.8},{"p":5,"m":"B","q":"l","b":220,"v":6.9},
{"p":5,"m":"N","q":"l","b":20,"v":14.1},{"p":5,"m":"N","q":"l","b":50,"v":12.7},{"p":5,"m":"N","q":"l","b":77,"v":10.6},{"p":5,"m":"N","q":"l","b":100,"v":9.9},{"p":5,"m":"N","q":"l","b":150,"v":9.4},{"p":5,"m":"N","q":"l","b":172,"v":9.0},{"p":5,"m":"N","q":"l","b":200,"v":8.2},{"p":5,"m":"N","q":"l","b":215,"v":7.2},{"p":5,"m":"N","q":"l","b":220,"v":6.8}
],
"obs": [
{"p":1,"b":42,"v":15.3,"k":"d","w":15.3},{"p":1,"b":52,"v":12.8,"k":"d","w":12.8},{"p":1,"b":104,"v":13.3,"k":"d","w":13.3},{"p":1,"b":112,"v":13.3,"k":"d","w":13.3},{"p":1,"b":112,"v":14.3,"k":"l","w":14.9},{"p":1,"b":139,"v":14.0,"k":"d","w":14.0},{"p":1,"b":190,"v":13.5,"k":"u","w":12.8},{"p":1,"b":226,"v":12.8,"k":"u","w":12.2},{"p":1,"b":234,"v":13.5,"k":"u","w":12.9},{"p":1,"b":237,"v":13.3,"k":"u","w":12.8},{"p":1,"b":239,"v":13.6,"k":"u","w":13.0},{"p":1,"b":254,"v":13.2,"k":"u","w":12.6},{"p":1,"b":289,"v":12.2,"k":"u","w":11.5},
{"p":2,"b":42,"v":13.9,"k":"d","w":13.9},{"p":2,"b":52,"v":13.0,"k":"d","w":13.0},{"p":2,"b":104,"v":13.3,"k":"d","w":13.3},{"p":2,"b":112,"v":13.1,"k":"d","w":13.1},{"p":2,"b":112,"v":12.9,"k":"d","w":12.9},{"p":2,"b":139,"v":13.8,"k":"d","w":13.8},{"p":2,"b":189,"v":13.8,"k":"d","w":13.8},{"p":2,"b":189,"v":13.5,"k":"d","w":13.5},{"p":2,"b":189,"v":13.1,"k":"d","w":13.1},{"p":2,"b":226,"v":13.5,"k":"d","w":13.5},{"p":2,"b":233,"v":13.0,"k":"d","w":13.0},{"p":2,"b":238,"v":13.2,"k":"d","w":13.2},{"p":2,"b":254,"v":12.6,"k":"d","w":12.6},{"p":2,"b":254,"v":12.1,"k":"d","w":12.1},{"p":2,"b":289,"v":12.8,"k":"d","w":12.8},
{"p":3,"b":42,"v":14.6,"k":"d","w":14.6},{"p":3,"b":52,"v":14.4,"k":"d","w":14.4},{"p":3,"b":104,"v":14.2,"k":"l","w":14.9},{"p":3,"b":112,"v":13.8,"k":"d","w":13.8},{"p":3,"b":112,"v":13.2,"k":"d","w":13.2},{"p":3,"b":139,"v":14.9,"k":"l","w":15.4},{"p":3,"b":189,"v":14.1,"k":"l","w":14.6},{"p":3,"b":189,"v":13.3,"k":"u","w":12.7},{"p":3,"b":226,"v":14.2,"k":"d","w":14.2},{"p":3,"b":233,"v":14.1,"k":"d","w":14.1},{"p":3,"b":238,"v":13.9,"k":"d","w":13.9},{"p":3,"b":233,"v":13.3,"k":"u","w":12.7},{"p":3,"b":254,"v":13.7,"k":"d","w":13.7},{"p":3,"b":289,"v":13.5,"k":"d","w":13.5},
{"p":4,"b":104,"v":13.4,"k":"l","w":14.0},{"p":4,"b":112,"v":13.8,"k":"u","w":13.2},{"p":4,"b":189,"v":13.6,"k":"u","w":12.9},{"p":4,"b":238,"v":14.7,"k":"l","w":15.4},{"p":4,"b":289,"v":13.7,"k":"d","w":13.7},
{"p":5,"b":112,"v":14.0,"k":"e","w":14.6},{"p":5,"b":112,"v":14.0,"k":"e","w":13.5}
]
},
"vconcat": [
{"width":222,"height":116,"resolve":{"axis":{"x":"independent","y":"independent"}},"layer":[
{"data":{"name":"bands"},"transform":[{"filter":"datum.p==1 && datum.m=='G'"}],"mark":{"type":"area","color":"#808080","opacity":0.42,"clip":true,"interpolate":"monotone"},"encoding":{"x":{"field":"b","type":"quantitative","scale":{"domain":[20,350]},"axis":{"orient":"bottom","values":[30,40,50,60,70,80,90,100,110,120,130,140,150,160,170,180,190,200,210,220,230,240,250,260,270,280,290,300,310,320,330,340],"labels":false,"title":null,"tickSize":{"condition":{"test":"datum.value % 50 === 0","value":-5},"value":-2.5}}},"y":{"field":"hi","type":"quantitative","scale":{"domain":[7,19]},"axis":{"orient":"left","values":[7.5,8,8.5,9,9.5,10,10.5,11,11.5,12,12.5,13,13.5,14,14.5,15,15.5,16,16.5,17,17.5,18,18.5],"labelExpr":"datum.value % 2 === 0 ? '' + datum.value : ''","labelOverlap":false,"labelFontSize":11,"labelPadding":3,"title":"log(NSiII/cm⁻²)","titleFontSize":10,"titleFontWeight":"normal","titlePadding":4,"tickSize":{"condition":{"test":"datum.value % 2 === 0","value":-5},"value":-2.5}}},"y2":{"field":"lo"}}},
{"data":{"name":"bands"},"transform":[{"filter":"datum.p==1 && datum.m=='B'"}],"mark":{"type":"area","color":"#0000ff","opacity":0.34,"clip":true,"interpolate":"monotone"},"encoding":{"x":{"field":"b","type":"quantitative","axis":{"orient":"top","values":[30,40,50,60,70,80,90,100,110,120,130,140,150,160,170,180,190,200,210,220,230,240,250,260,270,280,290,300,310,320,330,340],"labels":false,"title":null,"tickSize":{"condition":{"test":"datum.value % 50 === 0","value":-5},"value":-2.5}}},"y":{"field":"hi","type":"quantitative","axis":{"orient":"right","values":[7.5,8,8.5,9,9.5,10,10.5,11,11.5,12,12.5,13,13.5,14,14.5,15,15.5,16,16.5,17,17.5,18,18.5],"labels":false,"title":null,"tickSize":{"condition":{"test":"datum.value % 2 === 0","value":-5},"value":-2.5}}},"y2":{"field":"lo"}}},
{"data":{"name":"bands"},"transform":[{"filter":"datum.p==1 && datum.m=='N'"}],"mark":{"type":"area","color":"#00ff00","opacity":0.35,"clip":true,"interpolate":"monotone"},"encoding":{"x":{"field":"b","type":"quantitative","axis":null},"y":{"field":"hi","type":"quantitative","axis":null},"y2":{"field":"lo"}}},
{"data":{"name":"lines"},"transform":[{"filter":"datum.p==1 && datum.q!='m'"}],"mark":{"type":"line","clip":true,"interpolate":"monotone","strokeDash":[4,2],"strokeWidth":1.1},"encoding":{"x":{"field":"b","type":"quantitative","axis":null},"y":{"field":"v","type":"quantitative","axis":null},"color":{"field":"m","type":"nominal","scale":{"domain":["G","B","N"],"range":["#888888","#1a1aee","#11e011"]},"legend":null},"detail":{"field":"q"}}},
{"data":{"name":"lines"},"transform":[{"filter":"datum.p==1 && datum.q=='m'"}],"mark":{"type":"line","clip":true,"interpolate":"monotone","strokeWidth":1.4},"encoding":{"x":{"field":"b","type":"quantitative","axis":null},"y":{"field":"v","type":"quantitative","axis":null},"color":{"field":"m","type":"nominal","legend":null}}},
{"data":{"name":"obs"},"transform":[{"filter":"datum.p==1 && datum.k!='d'"}],"mark":{"type":"rule","color":"#000","strokeWidth":1.2},"encoding":{"x":{"field":"b","type":"quantitative","axis":null},"y":{"field":"v","type":"quantitative","axis":null},"y2":{"field":"w"}}},
{"data":{"name":"obs"},"transform":[{"filter":"datum.p==1 && (datum.k=='u' || datum.k=='l')"}],"mark":{"type":"point","filled":true,"color":"#000","opacity":1,"size":16},"encoding":{"x":{"field":"b","type":"quantitative","axis":null},"y":{"field":"w","type":"quantitative","axis":null},"shape":{"field":"k","type":"nominal","scale":{"domain":["l","u"],"range":["triangle-up","triangle-down"]},"legend":null}}},
{"data":{"name":"obs"},"transform":[{"filter":"datum.p==1"}],"mark":{"type":"circle","color":"#000","opacity":1,"size":12},"encoding":{"x":{"field":"b","type":"quantitative","axis":null},"y":{"field":"v","type":"quantitative","axis":null}}}
]},
{"width":222,"height":116,"resolve":{"axis":{"x":"independent","y":"independent"}},"layer":[
{"data":{"name":"bands"},"transform":[{"filter":"datum.p==2 && datum.m=='G'"}],"mark":{"type":"area","color":"#808080","opacity":0.42,"clip":true,"interpolate":"monotone"},"encoding":{"x":{"field":"b","type":"quantitative","scale":{"domain":[20,350]},"axis":{"orient":"bottom","values":[30,40,50,60,70,80,90,100,110,120,130,140,150,160,170,180,190,200,210,220,230,240,250,260,270,280,290,300,310,320,330,340],"labels":false,"title":null,"tickSize":{"condition":{"test":"datum.value % 50 === 0","value":-5},"value":-2.5}}},"y":{"field":"hi","type":"quantitative","scale":{"domain":[7,19]},"axis":{"orient":"left","values":[7.5,8,8.5,9,9.5,10,10.5,11,11.5,12,12.5,13,13.5,14,14.5,15,15.5,16,16.5,17,17.5,18,18.5],"labelExpr":"datum.value % 2 === 0 ? '' + datum.value : ''","labelOverlap":false,"labelFontSize":11,"labelPadding":3,"title":"log(NSiIV/cm⁻²)","titleFontSize":10,"titleFontWeight":"normal","titlePadding":4,"tickSize":{"condition":{"test":"datum.value % 2 === 0","value":-5},"value":-2.5}}},"y2":{"field":"lo"}}},
{"data":{"name":"bands"},"transform":[{"filter":"datum.p==2 && datum.m=='B'"}],"mark":{"type":"area","color":"#0000ff","opacity":0.34,"clip":true,"interpolate":"monotone"},"encoding":{"x":{"field":"b","type":"quantitative","axis":{"orient":"top","values":[30,40,50,60,70,80,90,100,110,120,130,140,150,160,170,180,190,200,210,220,230,240,250,260,270,280,290,300,310,320,330,340],"labels":false,"title":null,"tickSize":{"condition":{"test":"datum.value % 50 === 0","value":-5},"value":-2.5}}},"y":{"field":"hi","type":"quantitative","axis":{"orient":"right","values":[7.5,8,8.5,9,9.5,10,10.5,11,11.5,12,12.5,13,13.5,14,14.5,15,15.5,16,16.5,17,17.5,18,18.5],"labels":false,"title":null,"tickSize":{"condition":{"test":"datum.value % 2 === 0","value":-5},"value":-2.5}}},"y2":{"field":"lo"}}},
{"data":{"name":"bands"},"transform":[{"filter":"datum.p==2 && datum.m=='N'"}],"mark":{"type":"area","color":"#00ff00","opacity":0.35,"clip":true,"interpolate":"monotone"},"encoding":{"x":{"field":"b","type":"quantitative","axis":null},"y":{"field":"hi","type":"quantitative","axis":null},"y2":{"field":"lo"}}},
{"data":{"name":"lines"},"transform":[{"filter":"datum.p==2 && datum.q!='m'"}],"mark":{"type":"line","clip":true,"interpolate":"monotone","strokeDash":[4,2],"strokeWidth":1.1},"encoding":{"x":{"field":"b","type":"quantitative","axis":null},"y":{"field":"v","type":"quantitative","axis":null},"color":{"field":"m","type":"nominal","scale":{"domain":["G","B","N"],"range":["#888888","#1a1aee","#11e011"]},"legend":null},"detail":{"field":"q"}}},
{"data":{"name":"lines"},"transform":[{"filter":"datum.p==2 && datum.q=='m'"}],"mark":{"type":"line","clip":true,"interpolate":"monotone","strokeWidth":1.4},"encoding":{"x":{"field":"b","type":"quantitative","axis":null},"y":{"field":"v","type":"quantitative","axis":null},"color":{"field":"m","type":"nominal","legend":null}}},
{"data":{"name":"obs"},"transform":[{"filter":"datum.p==2 && datum.k!='d'"}],"mark":{"type":"rule","color":"#000","strokeWidth":1.2},"encoding":{"x":{"field":"b","type":"quantitative","axis":null},"y":{"field":"v","type":"quantitative","axis":null},"y2":{"field":"w"}}},
{"data":{"name":"obs"},"transform":[{"filter":"datum.p==2 && (datum.k=='u' || datum.k=='l')"}],"mark":{"type":"point","filled":true,"color":"#000","opacity":1,"size":16},"encoding":{"x":{"field":"b","type":"quantitative","axis":null},"y":{"field":"w","type":"quantitative","axis":null},"shape":{"field":"k","type":"nominal","scale":{"domain":["l","u"],"range":["triangle-up","triangle-down"]},"legend":null}}},
{"data":{"name":"obs"},"transform":[{"filter":"datum.p==2"}],"mark":{"type":"circle","color":"#000","opacity":1,"size":12},"encoding":{"x":{"field":"b","type":"quantitative","axis":null},"y":{"field":"v","type":"quantitative","axis":null}}}
]},
{"width":222,"height":116,"resolve":{"axis":{"x":"independent","y":"independent"}},"layer":[
{"data":{"name":"bands"},"transform":[{"filter":"datum.p==3 && datum.m=='G'"}],"mark":{"type":"area","color":"#808080","opacity":0.42,"clip":true,"interpolate":"monotone"},"encoding":{"x":{"field":"b","type":"quantitative","scale":{"domain":[20,350]},"axis":{"orient":"bottom","values":[30,40,50,60,70,80,90,100,110,120,130,140,150,160,170,180,190,200,210,220,230,240,250,260,270,280,290,300,310,320,330,340],"labels":false,"title":null,"tickSize":{"condition":{"test":"datum.value % 50 === 0","value":-5},"value":-2.5}}},"y":{"field":"hi","type":"quantitative","scale":{"domain":[7,19]},"axis":{"orient":"left","values":[7.5,8,8.5,9,9.5,10,10.5,11,11.5,12,12.5,13,13.5,14,14.5,15,15.5,16,16.5,17,17.5,18,18.5],"labelExpr":"datum.value % 2 === 0 ? '' + datum.value : ''","labelOverlap":false,"labelFontSize":11,"labelPadding":3,"title":"log(NCIV/cm⁻²)","titleFontSize":10,"titleFontWeight":"normal","titlePadding":4,"tickSize":{"condition":{"test":"datum.value % 2 === 0","value":-5},"value":-2.5}}},"y2":{"field":"lo"}}},
{"data":{"name":"bands"},"transform":[{"filter":"datum.p==3 && datum.m=='B'"}],"mark":{"type":"area","color":"#0000ff","opacity":0.34,"clip":true,"interpolate":"monotone"},"encoding":{"x":{"field":"b","type":"quantitative","axis":{"orient":"top","values":[30,40,50,60,70,80,90,100,110,120,130,140,150,160,170,180,190,200,210,220,230,240,250,260,270,280,290,300,310,320,330,340],"labels":false,"title":null,"tickSize":{"condition":{"test":"datum.value % 50 === 0","value":-5},"value":-2.5}}},"y":{"field":"hi","type":"quantitative","axis":{"orient":"right","values":[7.5,8,8.5,9,9.5,10,10.5,11,11.5,12,12.5,13,13.5,14,14.5,15,15.5,16,16.5,17,17.5,18,18.5],"labels":false,"title":null,"tickSize":{"condition":{"test":"datum.value % 2 === 0","value":-5},"value":-2.5}}},"y2":{"field":"lo"}}},
{"data":{"name":"bands"},"transform":[{"filter":"datum.p==3 && datum.m=='N'"}],"mark":{"type":"area","color":"#00ff00","opacity":0.35,"clip":true,"interpolate":"monotone"},"encoding":{"x":{"field":"b","type":"quantitative","axis":null},"y":{"field":"hi","type":"quantitative","axis":null},"y2":{"field":"lo"}}},
{"data":{"name":"lines"},"transform":[{"filter":"datum.p==3 && datum.q!='m'"}],"mark":{"type":"line","clip":true,"interpolate":"monotone","strokeDash":[4,2],"strokeWidth":1.1},"encoding":{"x":{"field":"b","type":"quantitative","axis":null},"y":{"field":"v","type":"quantitative","axis":null},"color":{"field":"m","type":"nominal","scale":{"domain":["G","B","N"],"range":["#888888","#1a1aee","#11e011"]},"legend":null},"detail":{"field":"q"}}},
{"data":{"name":"lines"},"transform":[{"filter":"datum.p==3 && datum.q=='m'"}],"mark":{"type":"line","clip":true,"interpolate":"monotone","strokeWidth":1.4},"encoding":{"x":{"field":"b","type":"quantitative","axis":null},"y":{"field":"v","type":"quantitative","axis":null},"color":{"field":"m","type":"nominal","legend":null}}},
{"data":{"name":"obs"},"transform":[{"filter":"datum.p==3 && datum.k!='d'"}],"mark":{"type":"rule","color":"#000","strokeWidth":1.2},"encoding":{"x":{"field":"b","type":"quantitative","axis":null},"y":{"field":"v","type":"quantitative","axis":null},"y2":{"field":"w"}}},
{"data":{"name":"obs"},"transform":[{"filter":"datum.p==3 && (datum.k=='u' || datum.k=='l')"}],"mark":{"type":"point","filled":true,"color":"#000","opacity":1,"size":16},"encoding":{"x":{"field":"b","type":"quantitative","axis":null},"y":{"field":"w","type":"quantitative","axis":null},"shape":{"field":"k","type":"nominal","scale":{"domain":["l","u"],"range":["triangle-up","triangle-down"]},"legend":null}}},
{"data":{"name":"obs"},"transform":[{"filter":"datum.p==3"}],"mark":{"type":"circle","color":"#000","opacity":1,"size":12},"encoding":{"x":{"field":"b","type":"quantitative","axis":null},"y":{"field":"v","type":"quantitative","axis":null}}}
]},
{"width":222,"height":116,"resolve":{"axis":{"x":"independent","y":"independent"}},"layer":[
{"data":{"name":"bands"},"transform":[{"filter":"datum.p==4 && datum.m=='G'"}],"mark":{"type":"area","color":"#808080","opacity":0.42,"clip":true,"interpolate":"monotone"},"encoding":{"x":{"field":"b","type":"quantitative","scale":{"domain":[20,350]},"axis":{"orient":"bottom","values":[30,40,50,60,70,80,90,100,110,120,130,140,150,160,170,180,190,200,210,220,230,240,250,260,270,280,290,300,310,320,330,340],"labels":false,"title":null,"tickSize":{"condition":{"test":"datum.value % 50 === 0","value":-5},"value":-2.5}}},"y":{"field":"hi","type":"quantitative","scale":{"domain":[7,19]},"axis":{"orient":"left","values":[7.5,8,8.5,9,9.5,10,10.5,11,11.5,12,12.5,13,13.5,14,14.5,15,15.5,16,16.5,17,17.5,18,18.5],"labelExpr":"datum.value % 2 === 0 ? '' + datum.value : ''","labelOverlap":false,"labelFontSize":11,"labelPadding":3,"title":"log(NNV/cm⁻²)","titleFontSize":10,"titleFontWeight":"normal","titlePadding":4,"tickSize":{"condition":{"test":"datum.value % 2 === 0","value":-5},"value":-2.5}}},"y2":{"field":"lo"}}},
{"data":{"name":"bands"},"transform":[{"filter":"datum.p==4 && datum.m=='B'"}],"mark":{"type":"area","color":"#0000ff","opacity":0.34,"clip":true,"interpolate":"monotone"},"encoding":{"x":{"field":"b","type":"quantitative","axis":{"orient":"top","values":[30,40,50,60,70,80,90,100,110,120,130,140,150,160,170,180,190,200,210,220,230,240,250,260,270,280,290,300,310,320,330,340],"labels":false,"title":null,"tickSize":{"condition":{"test":"datum.value % 50 === 0","value":-5},"value":-2.5}}},"y":{"field":"hi","type":"quantitative","axis":{"orient":"right","values":[7.5,8,8.5,9,9.5,10,10.5,11,11.5,12,12.5,13,13.5,14,14.5,15,15.5,16,16.5,17,17.5,18,18.5],"labels":false,"title":null,"tickSize":{"condition":{"test":"datum.value % 2 === 0","value":-5},"value":-2.5}}},"y2":{"field":"lo"}}},
{"data":{"name":"bands"},"transform":[{"filter":"datum.p==4 && datum.m=='N'"}],"mark":{"type":"area","color":"#00ff00","opacity":0.35,"clip":true,"interpolate":"monotone"},"encoding":{"x":{"field":"b","type":"quantitative","axis":null},"y":{"field":"hi","type":"quantitative","axis":null},"y2":{"field":"lo"}}},
{"data":{"name":"lines"},"transform":[{"filter":"datum.p==4 && datum.q!='m'"}],"mark":{"type":"line","clip":true,"interpolate":"monotone","strokeDash":[4,2],"strokeWidth":1.1},"encoding":{"x":{"field":"b","type":"quantitative","axis":null},"y":{"field":"v","type":"quantitative","axis":null},"color":{"field":"m","type":"nominal","scale":{"domain":["G","B","N"],"range":["#888888","#1a1aee","#11e011"]},"legend":null},"detail":{"field":"q"}}},
{"data":{"name":"lines"},"transform":[{"filter":"datum.p==4 && datum.q=='m'"}],"mark":{"type":"line","clip":true,"interpolate":"monotone","strokeWidth":1.4},"encoding":{"x":{"field":"b","type":"quantitative","axis":null},"y":{"field":"v","type":"quantitative","axis":null},"color":{"field":"m","type":"nominal","legend":null}}},
{"data":{"name":"obs"},"transform":[{"filter":"datum.p==4 && datum.k!='d'"}],"mark":{"type":"rule","color":"#000","strokeWidth":1.2},"encoding":{"x":{"field":"b","type":"quantitative","axis":null},"y":{"field":"v","type":"quantitative","axis":null},"y2":{"field":"w"}}},
{"data":{"name":"obs"},"transform":[{"filter":"datum.p==4 && (datum.k=='u' || datum.k=='l')"}],"mark":{"type":"point","filled":true,"color":"#000","opacity":1,"size":16},"encoding":{"x":{"field":"b","type":"quantitative","axis":null},"y":{"field":"w","type":"quantitative","axis":null},"shape":{"field":"k","type":"nominal","scale":{"domain":["l","u"],"range":["triangle-up","triangle-down"]},"legend":null}}},
{"data":{"name":"obs"},"transform":[{"filter":"datum.p==4"}],"mark":{"type":"circle","color":"#000","opacity":1,"size":12},"encoding":{"x":{"field":"b","type":"quantitative","axis":null},"y":{"field":"v","type":"quantitative","axis":null}}}
]},
{"width":222,"height":116,"resolve":{"axis":{"x":"independent","y":"independent"}},"layer":[
{"data":{"name":"bands"},"transform":[{"filter":"datum.p==5 && datum.m=='G'"}],"mark":{"type":"area","color":"#808080","opacity":0.42,"clip":true,"interpolate":"monotone"},"encoding":{"x":{"field":"b","type":"quantitative","scale":{"domain":[20,350]},"axis":{"orient":"bottom","values":[30,40,50,60,70,80,90,100,110,120,130,140,150,160,170,180,190,200,210,220,230,240,250,260,270,280,290,300,310,320,330,340,350],"labelExpr":"datum.value % 50 === 0 ? datum.label : ''","labelOverlap":false,"labelFlush":false,"labelFontSize":11,"labelPadding":3,"title":"b [kpc]","titleFontSize":11,"titleFontWeight":"normal","titlePadding":3,"tickSize":{"condition":{"test":"datum.value % 50 === 0","value":-5},"value":-2.5}}},"y":{"field":"hi","type":"quantitative","scale":{"domain":[7,19]},"axis":{"orient":"left","values":[7.5,8,8.5,9,9.5,10,10.5,11,11.5,12,12.5,13,13.5,14,14.5,15,15.5,16,16.5,17,17.5,18,18.5],"labelExpr":"datum.value % 2 === 0 ? '' + datum.value : ''","labelOverlap":false,"labelFontSize":11,"labelPadding":3,"title":"log(NOVI/cm⁻²)","titleFontSize":10,"titleFontWeight":"normal","titlePadding":4,"tickSize":{"condition":{"test":"datum.value % 2 === 0","value":-5},"value":-2.5}}},"y2":{"field":"lo"}}},
{"data":{"name":"bands"},"transform":[{"filter":"datum.p==5 && datum.m=='B'"}],"mark":{"type":"area","color":"#0000ff","opacity":0.34,"clip":true,"interpolate":"monotone"},"encoding":{"x":{"field":"b","type":"quantitative","axis":{"orient":"top","values":[30,40,50,60,70,80,90,100,110,120,130,140,150,160,170,180,190,200,210,220,230,240,250,260,270,280,290,300,310,320,330,340],"labels":false,"title":null,"tickSize":{"condition":{"test":"datum.value % 50 === 0","value":-5},"value":-2.5}}},"y":{"field":"hi","type":"quantitative","axis":{"orient":"right","values":[7.5,8,8.5,9,9.5,10,10.5,11,11.5,12,12.5,13,13.5,14,14.5,15,15.5,16,16.5,17,17.5,18,18.5],"labels":false,"title":null,"tickSize":{"condition":{"test":"datum.value % 2 === 0","value":-5},"value":-2.5}}},"y2":{"field":"lo"}}},
{"data":{"name":"bands"},"transform":[{"filter":"datum.p==5 && datum.m=='N'"}],"mark":{"type":"area","color":"#00ff00","opacity":0.35,"clip":true,"interpolate":"monotone"},"encoding":{"x":{"field":"b","type":"quantitative","axis":null},"y":{"field":"hi","type":"quantitative","axis":null},"y2":{"field":"lo"}}},
{"data":{"name":"lines"},"transform":[{"filter":"datum.p==5 && datum.q!='m'"}],"mark":{"type":"line","clip":true,"interpolate":"monotone","strokeDash":[4,2],"strokeWidth":1.1},"encoding":{"x":{"field":"b","type":"quantitative","axis":null},"y":{"field":"v","type":"quantitative","axis":null},"color":{"field":"m","type":"nominal","scale":{"domain":["G","B","N"],"range":["#888888","#1a1aee","#11e011"]},"legend":null},"detail":{"field":"q"}}},
{"data":{"name":"lines"},"transform":[{"filter":"datum.p==5 && datum.q=='m'"}],"mark":{"type":"line","clip":true,"interpolate":"monotone","strokeWidth":1.4},"encoding":{"x":{"field":"b","type":"quantitative","axis":null},"y":{"field":"v","type":"quantitative","axis":null},"color":{"field":"m","type":"nominal","legend":null}}},
{"data":{"name":"obs"},"transform":[{"filter":"datum.p==5 && datum.k!='d'"}],"mark":{"type":"rule","color":"#000","strokeWidth":1.2},"encoding":{"x":{"field":"b","type":"quantitative","axis":null},"y":{"field":"v","type":"quantitative","axis":null},"y2":{"field":"w"}}},
{"data":{"name":"obs"},"transform":[{"filter":"datum.p==5 && (datum.k=='u' || datum.k=='l')"}],"mark":{"type":"point","filled":true,"color":"#000","opacity":1,"size":16},"encoding":{"x":{"field":"b","type":"quantitative","axis":null},"y":{"field":"w","type":"quantitative","axis":null},"shape":{"field":"k","type":"nominal","scale":{"domain":["l","u"],"range":["triangle-up","triangle-down"]},"legend":null}}},
{"data":{"name":"obs"},"transform":[{"filter":"datum.p==5"}],"mark":{"type":"circle","color":"#000","opacity":1,"size":12},"encoding":{"x":{"field":"b","type":"quantitative","axis":null},"y":{"field":"v","type":"quantitative","axis":null}}}
]}
]
}
